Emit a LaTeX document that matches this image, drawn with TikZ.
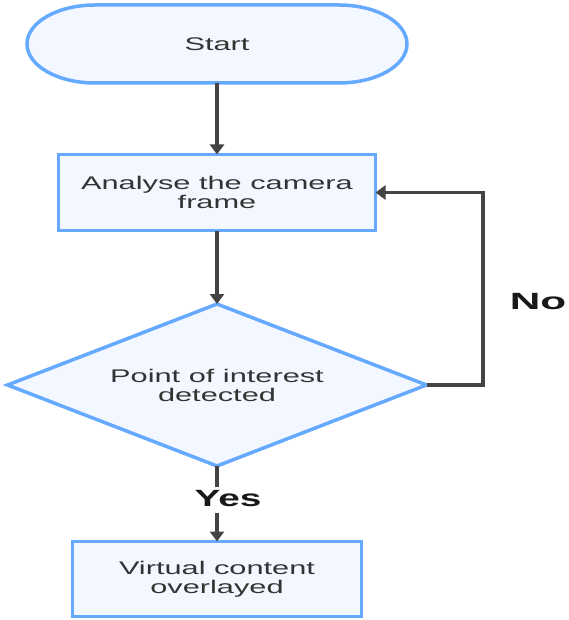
\documentclass[tikz,border=0pt]{standalone}
\usepackage{fontspec}
\setmainfont{Liberation Sans}
\usetikzlibrary{shapes.geometric,arrows.meta}
\definecolor{edgeblue}{RGB}{102,170,255}
\definecolor{boxfill}{RGB}{243,247,255}
\definecolor{linegray}{RGB}{68,68,68}
\definecolor{textgray}{RGB}{51,51,51}
\definecolor{labelcol}{RGB}{25,25,25}
\newcommand{\sx}[2]{\scalebox{#1}[1]{#2}}
\begin{document}
\begin{tikzpicture}[x=1pt,y=1pt,
  boxline/.style={draw=edgeblue, line width=3.5pt, fill=boxfill},
  txt/.style={text=textgray, font=\fontsize{18.3pt}{19pt}\selectfont, align=center, inner sep=0pt, outer sep=0pt},
  procbox/.style={boxline, txt, rectangle},
  decbox/.style={boxline, txt, diamond, aspect=2.55},
  plainline/.style={draw=linegray, line width=3.3pt},
  conn/.style={plainline, -{Triangle[length=10pt,width=14pt]}},
  lbl/.style={text=labelcol, font=\bfseries\fontsize{23.5pt}{24pt}\selectfont, inner sep=0pt}
]
\useasboundingbox (0,0) rectangle (568,-620);
% terminator shape
\path[boxline] (95,-5) -- (339,-5)
  arc[start angle=90,end angle=-90,x radius=68,y radius=39]
  -- (95,-83)
  arc[start angle=270,end angle=90,x radius=68,y radius=39] -- cycle;
\node[txt, minimum width=380, minimum height=78] (start) at (217,-44) {\sx{1.68}{Start}};
\node[procbox, minimum width=317, minimum height=76] (analyse) at (217,-192.5)
  {\sx{1.68}{Analyse the camera}\\\sx{1.68}{frame}};
\node[decbox, minimum width=419, minimum height=162] (decide) at (217,-385)
  {\sx{1.68}{Point of interest}\\\sx{1.68}{detected}};
\node[procbox, minimum width=289, minimum height=75] (result) at (217,-579)
  {\sx{1.68}{Virtual content}\\\sx{1.68}{overlayed}};
\node[lbl] (yes) at (228,-499) {\sx{1.65}{Yes}};
\node[lbl] (no) at (538,-302) {\sx{1.8}{No}};
\coordinate (loopx) at (483,-300);
\coordinate (gaptop) at (217,-487);
\coordinate (gapbot) at (217,-513);
\draw[conn] (start.south) -- (analyse.north);
\draw[conn] (analyse.south) -- (decide.north);
\draw[conn] (decide.east) -- (decide.east -| loopx) |- (analyse.east);
\draw[plainline] (decide.south) -- (gaptop);
\draw[conn] (gapbot) -- (result.north);
\end{tikzpicture}
\end{document}
